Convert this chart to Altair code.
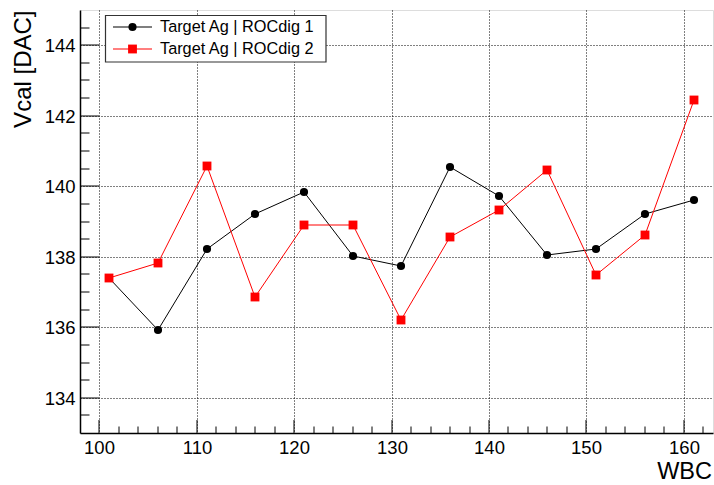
import altair as alt
import pandas as pd

# ---- data ----
wbc = [101, 106, 111, 116, 121, 126, 131, 136, 141, 146, 151, 156, 161]
rocdig1 = [137.41, 135.93, 138.22, 139.21, 139.83, 138.03, 137.73, 140.54, 139.73, 138.04, 138.22, 139.21, 139.61]
rocdig2 = [137.41, 137.82, 140.57, 136.86, 138.91, 138.91, 136.21, 138.56, 139.34, 140.47, 137.47, 138.63, 142.44]
series_names = ["Target Ag | ROCdig 1", "Target Ag | ROCdig 2"]
series_colors = ["#000000", "#ff0000"]
series_shapes = ["circle", "square"]

x_major = [100, 110, 120, 130, 140, 150, 160]
x_minor = [v for v in range(100, 163, 2) if v % 10 != 0]
y_major = [134, 136, 138, 140, 142, 144]
y_minor = [v / 2 for v in range(267, 290) if v % 4 != 0]

FONT = "Liberation Sans"
W, H = 633, 423
CIRCLE_SIZE = 66
SQUARE_SIZE = 78

xscale = alt.Scale(domain=[98, 163], nice=False, zero=False, round=True)
yscale = alt.Scale(domain=[133, 145], nice=False, zero=False, round=True)

df1 = pd.DataFrame({"WBC": wbc, "Vcal": rocdig1})
df2 = pd.DataFrame({"WBC": wbc, "Vcal": rocdig2})

xaxis = alt.Axis(values=x_major, title="WBC", grid=True, gridDash=[1, 2], gridColor="#000000",
                 gridOpacity=1, gridWidth=1, tickSize=0, labelPadding=5, labelFontSize=18.5,
                 labelFont=FONT, labelColor="#000000", titleFont=FONT, titleFontSize=23.5,
                 titleFontWeight="normal", titleColor="#000000", titleAlign="right",
                 titleX=W - 1.5, titlePadding=2.5, domainColor="#000000", domainWidth=1.5,
                 labelFlush=False)
yaxis = alt.Axis(values=y_major, title="Vcal [DAC]", grid=True, gridDash=[1, 2], gridColor="#000000",
                 gridOpacity=1, gridWidth=1, tickSize=0, labelPadding=5, labelFontSize=18.5,
                 labelFont=FONT, labelColor="#000000", titleFont=FONT, titleFontSize=24,
                 titleFontWeight="normal", titleColor="#000000", titleAnchor="end",
                 titlePadding=9, domainColor="#000000", domainWidth=1.5, labelFlush=False)

base_axes = alt.Chart(df1).mark_point(opacity=0).encode(
    x=alt.X("WBC:Q", scale=xscale, axis=xaxis),
    y=alt.Y("Vcal:Q", scale=yscale, axis=yaxis),
)

layers = [base_axes]

# inner ticks
layers.append(alt.Chart(pd.DataFrame({"v": x_major})).mark_rule(color="#000000", strokeWidth=1).encode(
    x=alt.X("v:Q", scale=xscale), y=alt.value(H), y2=alt.value(H - 13)))
layers.append(alt.Chart(pd.DataFrame({"v": x_minor})).mark_rule(color="#000000", strokeWidth=1).encode(
    x=alt.X("v:Q", scale=xscale), y=alt.value(H), y2=alt.value(H - 6.5)))
layers.append(alt.Chart(pd.DataFrame({"v": y_major})).mark_rule(color="#000000", strokeWidth=1).encode(
    y=alt.Y("v:Q", scale=yscale), x=alt.value(0), x2=alt.value(19)))
layers.append(alt.Chart(pd.DataFrame({"v": y_minor})).mark_rule(color="#000000", strokeWidth=1).encode(
    y=alt.Y("v:Q", scale=yscale), x=alt.value(0), x2=alt.value(9.5)))

# series
for df, col, shp in [(df1, series_colors[0], series_shapes[0]), (df2, series_colors[1], series_shapes[1])]:
    layers.append(alt.Chart(df).mark_line(color=col, strokeWidth=1).encode(
        x=alt.X("WBC:Q", scale=xscale), y=alt.Y("Vcal:Q", scale=yscale)))
    layers.append(alt.Chart(df).mark_point(shape=shp, filled=True, color=col, opacity=1,
                                           size=CIRCLE_SIZE if shp == "circle" else SQUARE_SIZE).encode(
        x=alt.X("WBC:Q", scale=xscale), y=alt.Y("Vcal:Q", scale=yscale)))

# legend
layers.append(alt.Chart(pd.DataFrame({"a": [0]})).mark_rect(fill="#ffffff", stroke="#333333", strokeWidth=1.2).encode(
    x=alt.value(25.5), x2=alt.value(246), y=alt.value(5.5), y2=alt.value(52)))
for i, name in enumerate(series_names):
    yy = 17 + 22 * i
    ldf = pd.DataFrame({"label": [name]})
    layers.append(alt.Chart(ldf).mark_rule(color=series_colors[i], strokeWidth=1.2).encode(
        x=alt.value(33), x2=alt.value(72), y=alt.value(yy)))
    layers.append(alt.Chart(ldf).mark_point(shape=series_shapes[i], filled=True, color=series_colors[i],
                                            opacity=1, size=CIRCLE_SIZE if i == 0 else SQUARE_SIZE).encode(
        x=alt.value(52.5), y=alt.value(yy)))
    layers.append(alt.Chart(ldf).mark_text(align="left", baseline="middle", font=FONT, fontSize=16.3,
                                           color="#000000").encode(
        x=alt.value(80), y=alt.value(yy), text="label:N"))

chart = alt.layer(*layers).properties(
    width=W, height=H,
    autosize=alt.AutoSizeParams(type="none"),
    padding={"left": 80, "top": 10, "right": 1, "bottom": 52},
).configure_view(stroke="#222222", strokeWidth=1.2).configure(background="#ffffff")

chart.save("out.html", embed_options={"renderer": "svg", "actions": False})
